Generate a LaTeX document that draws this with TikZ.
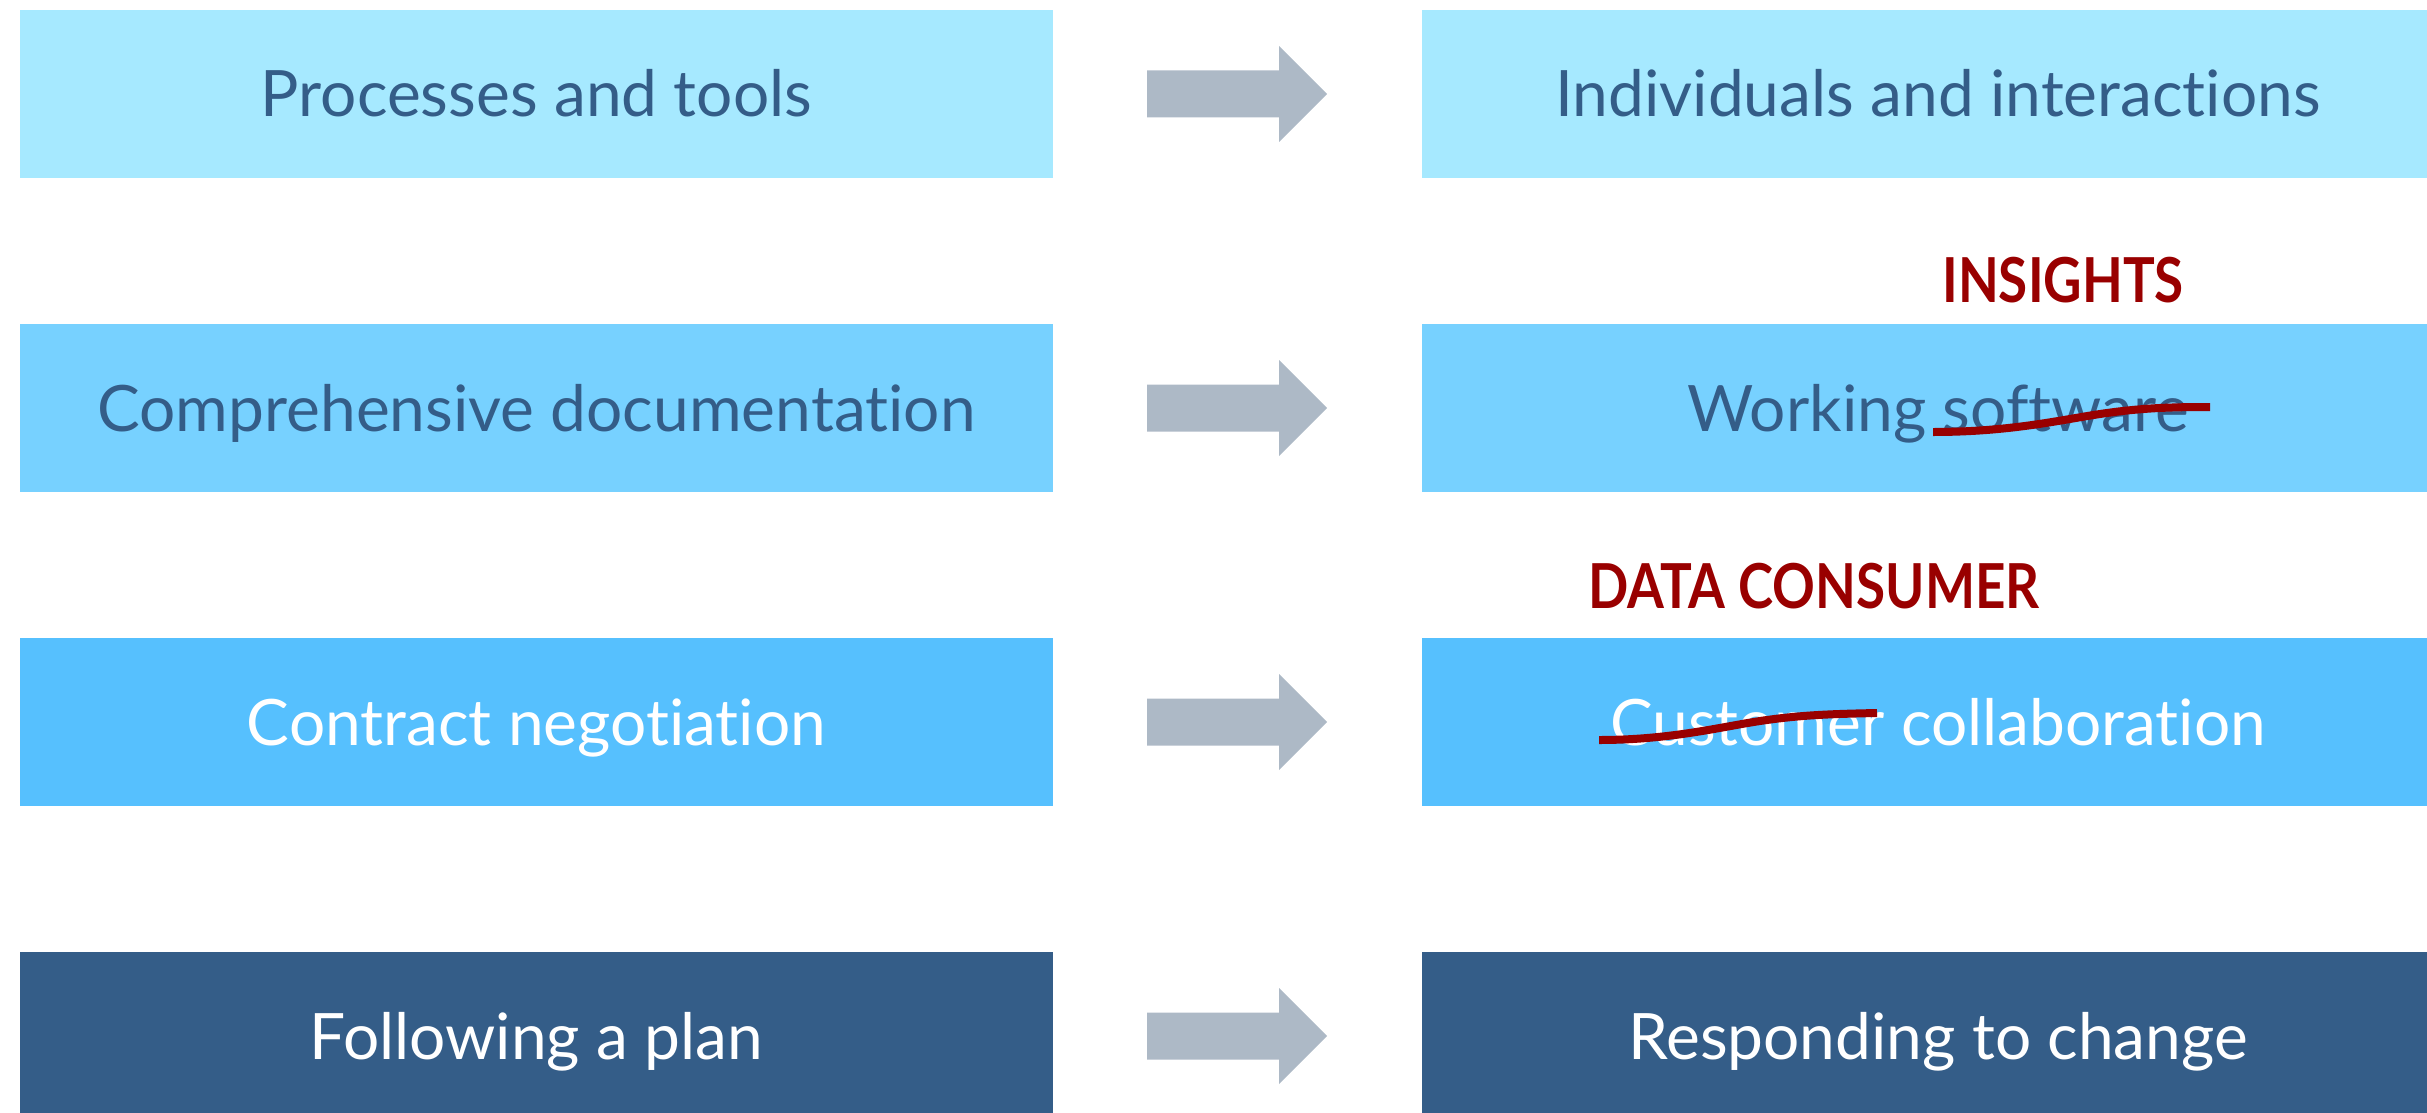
\documentclass[tikz,border=0pt]{standalone}
\usepackage{graphicx}
\usepackage{fontspec}
\setmainfont{Lato}[Ligatures=NoCommon]
\definecolor{rowA}{HTML}{A6E9FF}
\definecolor{rowB}{HTML}{77D1FF}
\definecolor{rowC}{HTML}{56C0FE}
\definecolor{rowD}{HTML}{345D88}
\definecolor{txtdark}{HTML}{345D88}
\definecolor{arrowgray}{HTML}{ADB9C6}
\definecolor{strikered}{HTML}{990000}
\newcommand\rowarrow[1]{%
  \begin{scope}[shift={(#1.east)}]
    \fill[arrowgray] (94,-23.5) -- (226,-23.5) -- (226,-48) -- (274,0) -- (226,48) -- (226,23.5) -- (94,23.5) -- cycle;
  \end{scope}}
\newcommand\narrowtext[1]{\scalebox{0.855}[1]{#1}}
\begin{document}
\begin{tikzpicture}[x=1pt,y=-1pt,
  box/.style={rectangle, draw=none, inner sep=0pt, minimum width=1033pt, minimum height=168pt,
    font=\fontsize{64}{76}\selectfont, text height=46pt, text depth=0pt},
  redlabel/.style={anchor=base, text=strikered, inner sep=0pt, font=\fontsize{62}{74}\selectfont\bfseries},
  strike/.style={draw=strikered, line width=8pt}]
\useasboundingbox (0,0) rectangle (2427,1113);
\clip (0,0) rectangle (2427,1113);
% left column
\node[box, fill=rowA, text=txtdark] (l1) at (536.5,94) {Processes and tools};
\node[box, fill=rowB, text=txtdark] (l2) at (536.5,408) {Comprehensive documentation};
\node[box, fill=rowC, text=white] (l3) at (536.5,722) {Contract negotiation};
\node[box, fill=rowD, text=white] (l4) at (536.5,1036) {Following a plan};
% right column
\node[box, fill=rowA, text=txtdark] (r1) at (1938,94) {Individuals and interactions};
\node[box, fill=rowB, text=txtdark] (r2) at (1938,408) {Working software};
\node[box, fill=rowC, text=white] (r3) at (1938,722) {Customer collaboration};
\node[box, fill=rowD, text=white] (r4) at (1938,1036) {Responding to change};
% arrows
\rowarrow{l1}
\rowarrow{l2}
\rowarrow{l3}
\rowarrow{l4}
% annotations
\node[redlabel] (ins) at (2063,302) {\narrowtext{INSIGHTS}};
\node[redlabel] (dc) at (1814,608) {\narrowtext{DATA CONSUMER}};
\draw[strike] (1933,432) .. controls (2010,432) and (2060,420) .. (2100,414) .. controls (2140,408) and (2170,407) .. (2210,407);
\draw[strike] (1599,740) .. controls (1670,740) and (1720,727) .. (1760,721) .. controls (1800,715) and (1830,714) .. (1877,713);
\end{tikzpicture}
\end{document}
